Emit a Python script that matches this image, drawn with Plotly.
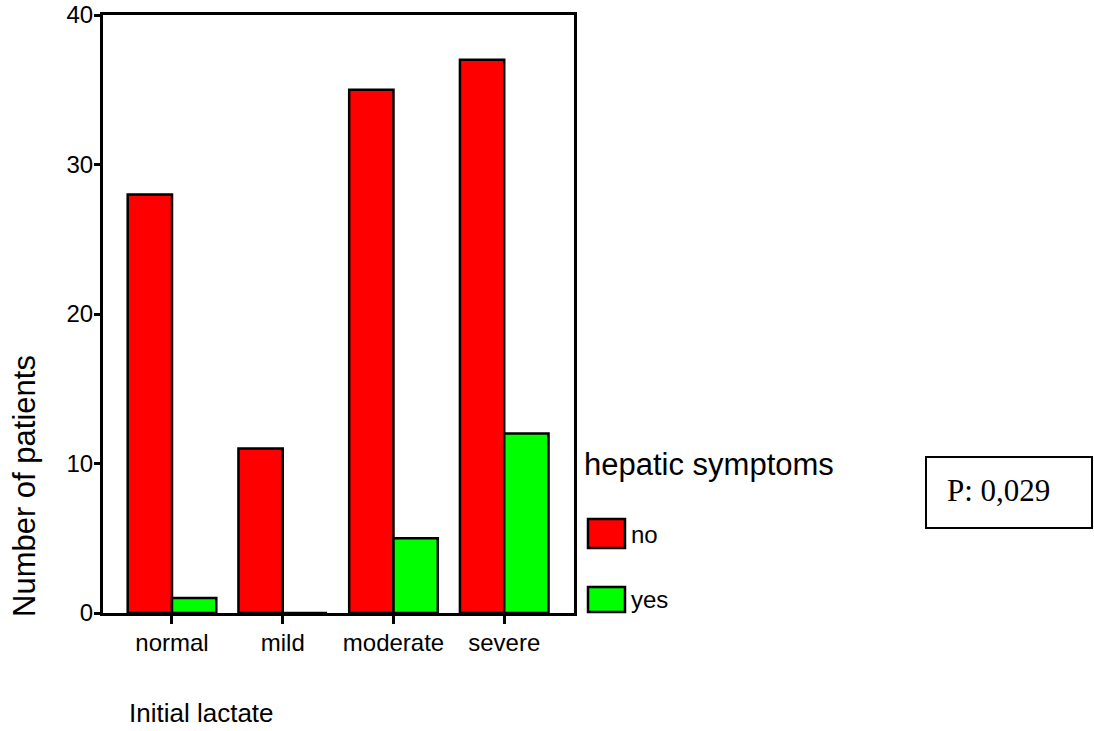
import plotly.graph_objects as go

categories = ["normal", "mild", "moderate", "severe"]
no_values = [28, 11, 35, 37]
yes_values = [1, 0, 5, 12]
y_ticks = [0, 10, 20, 30, 40]
legend_title = "hepatic symptoms"
series_names = ["no", "yes"]
p_text = "P: 0,029"

RED = "#FF0000"
GREEN = "#00FF00"

# plot area pixels
L, R, T, B = 103, 574, 15, 613
W, H = 1094, 731
pw, ph = R - L, B - T

def px(x):
    return (x - L) / pw

def py(y):
    return (B - y) / ph

fig = go.Figure()
fig.add_trace(go.Bar(x=categories, y=no_values, name=series_names[0],
                     marker=dict(color=RED, line=dict(color="black", width=2.5))))
fig.add_trace(go.Bar(x=categories, y=yes_values, name=series_names[1],
                     marker=dict(color=GREEN, line=dict(color="black", width=2.5))))

font_sans = "Liberation Sans, Arial, sans-serif"

fig.update_layout(
    width=W, height=H,
    margin=dict(l=L, r=W - R, t=T, b=H - B, pad=0, autoexpand=False),
    paper_bgcolor="white", plot_bgcolor="white",
    barmode="group", bargap=0.2, bargroupgap=0,
    showlegend=False,
    font=dict(family=font_sans, color="black", size=24),
)
fig.update_xaxes(
    range=[-0.623, 3.63], showline=True, linecolor="black", linewidth=3,
    mirror=True, ticks="outside", ticklen=8, tickwidth=3, tickcolor="black",
    showgrid=False, zeroline=False, tickfont=dict(size=24), ticklabelstandoff=-2,
    automargin=False,
)
fig.update_yaxes(
    range=[0, 40], tickvals=y_ticks, showline=True, linecolor="black", linewidth=3,
    mirror=True, ticks="outside", ticklen=6, tickwidth=3, tickcolor="black",
    showgrid=False, zeroline=False, tickfont=dict(size=24), ticklabelstandoff=-4,
    automargin=False,
)

annotations = [
    dict(text="Number of patients", textangle=-90, xref="paper", yref="paper",
         x=px(24), y=py(486), xanchor="center", yanchor="middle", showarrow=False,
         font=dict(size=31)),
    dict(text="Initial lactate", xref="paper", yref="paper",
         x=px(127), y=py(713), xanchor="left", yanchor="middle", showarrow=False,
         font=dict(size=26)),
    dict(text=legend_title, xref="paper", yref="paper",
         x=px(582), y=py(464), xanchor="left", yanchor="middle", showarrow=False,
         font=dict(size=31)),
    dict(text=series_names[0], xref="paper", yref="paper",
         x=px(629), y=py(534), xanchor="left", yanchor="middle", showarrow=False,
         font=dict(size=24)),
    dict(text=series_names[1], xref="paper", yref="paper",
         x=px(629), y=py(599), xanchor="left", yanchor="middle", showarrow=False,
         font=dict(size=24)),
    dict(text=p_text, xref="paper", yref="paper",
         x=px(945), y=py(490), xanchor="left", yanchor="middle", showarrow=False,
         font=dict(size=31, family="Liberation Serif, Times New Roman, serif")),
]
fig.update_layout(annotations=annotations)

shapes = [
    dict(type="rect", xref="paper", yref="paper",
         x0=px(588), x1=px(625), y0=py(548), y1=py(519),
         fillcolor=RED, line=dict(color="black", width=2.5)),
    dict(type="rect", xref="paper", yref="paper",
         x0=px(588), x1=px(625), y0=py(612), y1=py(587),
         fillcolor=GREEN, line=dict(color="black", width=2.5)),
    dict(type="rect", xref="paper", yref="paper",
         x0=px(926), x1=px(1092), y0=py(528), y1=py(457),
         fillcolor="rgba(0,0,0,0)", line=dict(color="black", width=2)),
]
fig.update_layout(shapes=shapes)

fig.write_html("out.html")
